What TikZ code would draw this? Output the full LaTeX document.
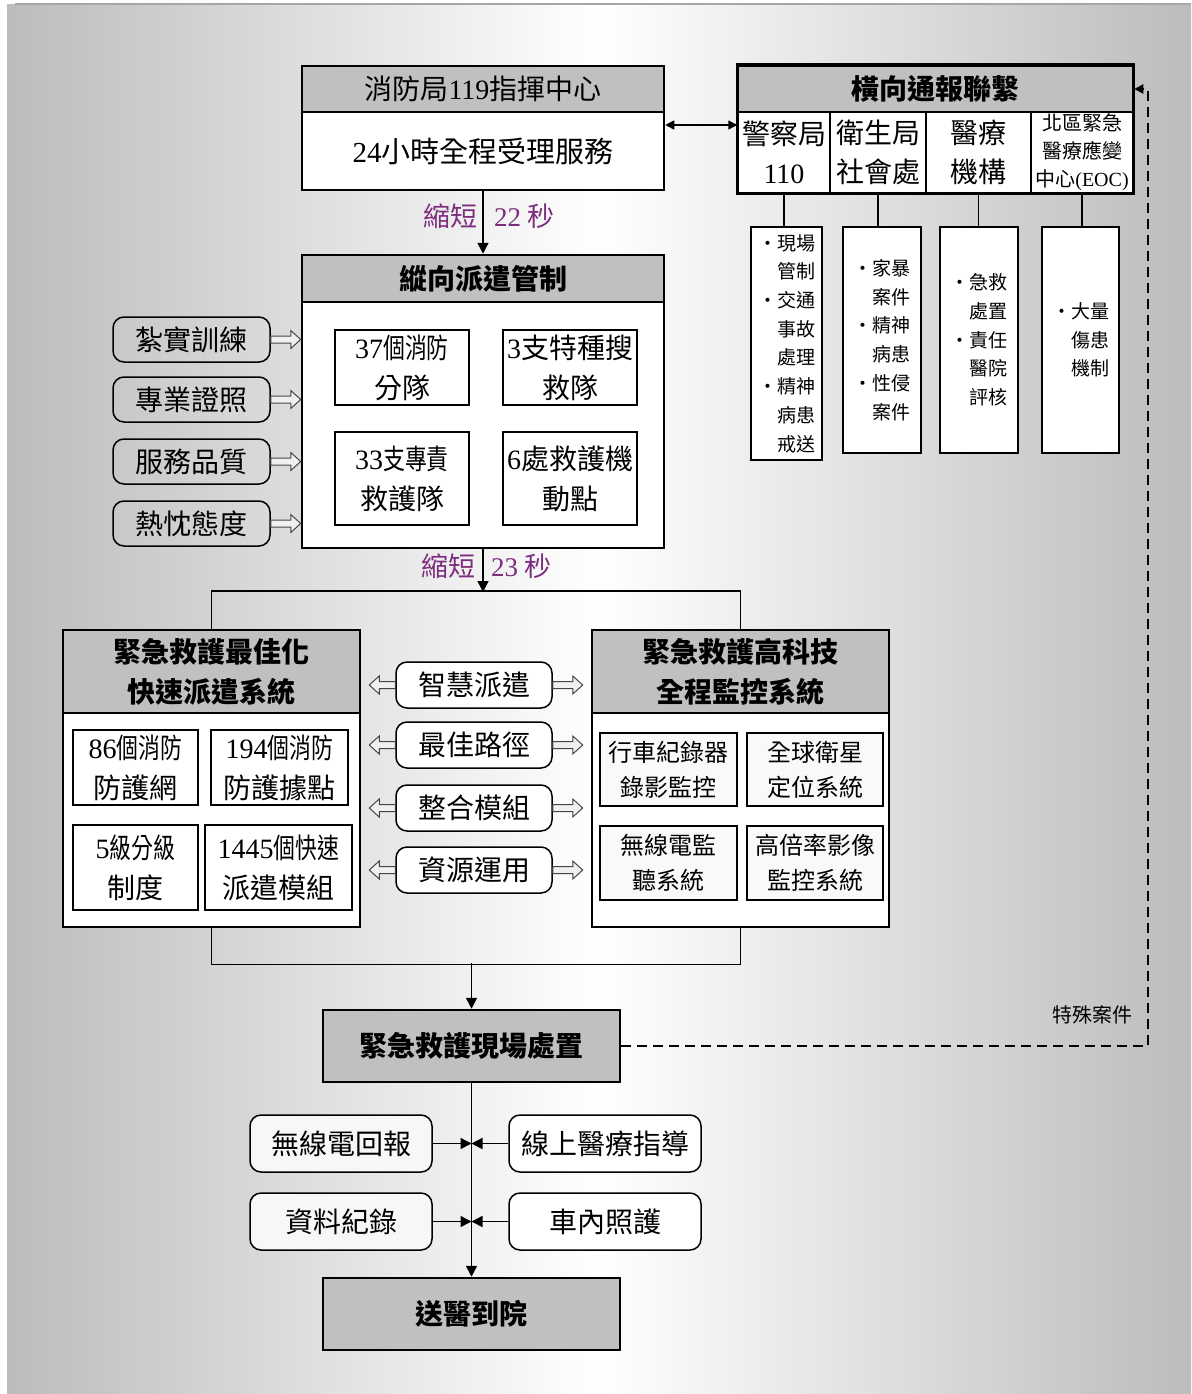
\documentclass[tikz,border=0pt]{standalone}
\usepackage{fontspec}
\setmainfont{Noto Sans CJK TC}
\newfontfamily\cjkc[FakeStretch=0.78]{Noto Sans CJK TC}
\newfontfamily\tnr{Liberation Serif}
\newcommand\tn[1]{{\tnr #1}}
\newcommand\fsz[2]{\fontsize{#1}{#2}\selectfont}
\usetikzlibrary{arrows.meta,calc}
\definecolor{hdrgray}{RGB}{192,192,192}
\definecolor{bgg}{RGB}{188,188,188}
\definecolor{purp}{RGB}{125,45,125}
\newcommand\harr[2]{%
 \filldraw[hollowarr] let \p1=(#1), \p2=(#2), \n1={(\x2>\x1)*2-1} in
  (\x1,{\y1+3.5pt}) -- ({\x2-\n1*10pt},{\y1+3.5pt}) -- ({\x2-\n1*10pt},{\y1+9pt})
  -- (\x2,\y1) -- ({\x2-\n1*10pt},{\y1-9pt}) -- ({\x2-\n1*10pt},{\y1-3.5pt})
  -- (\x1,{\y1-3.5pt}) -- cycle;}
\begin{document}
\begin{tikzpicture}[x=1pt,y=-1pt,
  wh/.style n args={2}{minimum width=#1pt, minimum height=#2pt},
  mainhdr/.style={draw, line width=2.5pt, fill=hdrgray, inner sep=0pt, align=center},
  mainbody/.style={draw, line width=2.5pt, fill=white, inner sep=0pt, align=center},
  cell/.style={draw, line width=1.5pt, fill=white, inner sep=0pt, align=center},
  detail/.style={draw, line width=1.2pt, fill=white, inner sep=0pt, align=left, font=\fsz{19}{28.7}},
  ibox/.style={draw, line width=1.2pt, fill=white, inner sep=0pt, align=center},
  rbox/.style={draw, line width=1.5pt, rounded corners=11pt, inner sep=0pt, align=center, font=\fsz{28}{34}},
  arr/.style={line width=1.5pt, -{Triangle[length=11pt,width=11pt]}},
  lbl/.style={text=purp, font=\fsz{27}{30}, inner sep=0pt},
  hollowarr/.style={fill=gray!12, draw=gray!55!black, line width=1pt}
]
\useasboundingbox (0,0) rectangle (1191,1394);
\fill[white] (0,0) rectangle (1191,1394);
\shade[left color=bgg, right color=bgg, middle color=white] (7,5) rectangle (1191,1394);
\draw[gray!70, line width=2pt] (15,4) -- (1191,4);

% ---- 119 center
\node[mainbody, wh={362}{78}, font=\fsz{29}{34}] (b119) at (483,151) {\tn{24}小時全程受理服務};
\node[mainhdr, wh={362}{46}, font=\fsz{28}{32}] (h119) at (483,89) {消防局\tn{119}指揮中心};

% ---- horizontal liaison
\node[cell, wh={92}{81}, font=\fsz{28}{39}] (c1) at (784,152.5) {警察局\\\tn{110}};
\node[cell, wh={96}{81}, font=\fsz{28}{39}] (c2) at (878,152.5) {衛生局\\社會處};
\node[cell, wh={105}{81}, font=\fsz{28}{39}] (c3) at (978.5,152.5) {醫療\\機構};
\node[cell, wh={102}{81}, font=\fsz{20}{28}] (c4) at (1082,152.5) {北區緊急\\醫療應變\\中心\tn{(EOC)}};
\node[mainhdr, wh={395}{46}, font=\fsz{28}{32}\bfseries] (hh) at (935.5,89) {橫向通報聯繫};
\draw[line width=2.5pt] (hh.north west) rectangle (c4.south east);

\node[detail, wh={71}{233}] (d1) at (786.5,343.5) {・現場\\\phantom{・}管制\\・交通\\\phantom{・}事故\\\phantom{・}處理\\・精神\\\phantom{・}病患\\\phantom{・}戒送};
\node[detail, wh={78}{226}] (d2) at (882,340) {・家暴\\\phantom{・}案件\\・精神\\\phantom{・}病患\\・性侵\\\phantom{・}案件};
\node[detail, wh={78}{226}] (d3) at (979,340) {・急救\\\phantom{・}處置\\・責任\\\phantom{・}醫院\\\phantom{・}評核};
\node[detail, wh={77}{226}] (d4) at (1080.5,340) {・大量\\\phantom{・}傷患\\\phantom{・}機制};
\foreach \c/\d in {c1/d1,c2/d2,c3/d3,c4/d4}
  \draw[line width=1.2pt] (\c.south) -- (\c.south |- \d.north);

\draw[line width=1.5pt, {Triangle[length=9pt,width=9pt]}-{Triangle[length=9pt,width=9pt]}]
  ([yshift=26pt]b119.east) -- ([yshift=26pt]b119.east -| c1.west);

% ---- vertical dispatch
\node[mainbody, wh={362}{246}] (vb) at (483,425) {};
\node[mainhdr, wh={362}{47}, font=\fsz{28}{32}\bfseries] (vh) at (483,278.5) {縱向派遣管制};
\draw[arr] (b119.south) -- (vh.north);
\node[lbl, anchor=east] (t22a) at (478,216) {縮短};
\node[lbl, anchor=west] (t22b) at (494,216) {\tn{22} 秒};

\node[ibox, wh={134}{75}, font=\fsz{28}{40}] (i1) at (402,367.5) {{\cjkc\tn{37}個消防}\\分隊};
\node[ibox, wh={134}{75}, font=\fsz{28}{40}] (i2) at (570,367.5) {\tn{3}支特種搜\\救隊};
\node[ibox, wh={134}{93}, font=\fsz{28}{40}] (i3) at (402,478.5) {{\cjkc\tn{33}支專責}\\救護隊};
\node[ibox, wh={134}{93}, font=\fsz{28}{40}] (i4) at (570,478.5) {\tn{6}處救護機\\動點};

\node[rbox, wh={157}{45}] (l1) at (191.5,339.5) {紮實訓練};
\node[rbox, wh={157}{45}] (l2) at (191.5,399.5) {專業證照};
\node[rbox, wh={157}{45}] (l3) at (191.5,461.5) {服務品質};
\node[rbox, wh={157}{45}] (l4) at (191.5,523.5) {熱忱態度};
\foreach \l in {l1,l2,l3,l4} \harr{\l.east}{vb.west |- \l.east};

% ---- split to two systems
\coordinate (jt) at (483,592);
\draw[arr] (vb.south) -- (vb.south |- jt);
\node[lbl, anchor=east] (t23a) at (476,566) {縮短};
\node[lbl, anchor=west] (t23b) at (491,566) {\tn{23} 秒};

\node[mainbody, wh={297}{214}] (lb) at (211.5,820) {};
\node[mainhdr, wh={297}{83}, font=\fsz{28}{40}\bfseries] (lh) at (211.5,671.5) {緊急救護最佳化\\快速派遣系統};
\node[mainbody, wh={297}{214}] (rb) at (740.5,820) {};
\node[mainhdr, wh={297}{83}, font=\fsz{28}{40}\bfseries] (rh) at (740.5,671.5) {緊急救護高科技\\全程監控系統};
\draw[line width=1.5pt] (lh.north) -- ++(0,-38) -| (rh.north);

\node[ibox, wh={125}{75}, font=\fsz{28}{40}] (j1) at (135.5,767.5) {{\cjkc\tn{86}個消防}\\防護網};
\node[ibox, wh={137}{75}, font=\fsz{28}{40}] (j2) at (279.5,767.5) {{\cjkc\tn{194}個消防}\\防護據點};
\node[ibox, wh={125}{85}, font=\fsz{28}{40}] (j3) at (135.5,867.5) {{\cjkc\tn{5}級分級}\\制度};
\node[ibox, wh={147}{85}, font=\fsz{28}{40}] (j4) at (278.5,867.5) {{\cjkc\tn{1445}個快速}\\派遣模組};

\node[ibox, fill=gray!5, wh={137}{73}, font=\fsz{24}{35}] (k1) at (668.5,769.5) {行車紀錄器\\錄影監控};
\node[ibox, fill=gray!5, wh={136}{73}, font=\fsz{24}{35}] (k2) at (815,769.5) {全球衛星\\定位系統};
\node[ibox, fill=gray!5, wh={137}{74}, font=\fsz{24}{35}] (k3) at (668.5,863) {無線電監\\聽系統};
\node[ibox, fill=gray!5, wh={136}{74}, font=\fsz{24}{35}] (k4) at (815,863) {高倍率影像\\監控系統};

\node[rbox, fill=white, wh={156}{46}] (m1) at (474,685) {智慧派遣};
\node[rbox, fill=white, wh={156}{46}] (m2) at (474,745) {最佳路徑};
\node[rbox, fill=white, wh={156}{46}] (m3) at (474,808) {整合模組};
\node[rbox, fill=white, wh={156}{46}] (m4) at (474,870) {資源運用};
\foreach \m in {m1,m2,m3,m4} {
  \harr{\m.west}{[xshift=8pt]lb.east |- \m.west};
  \harr{\m.east}{[xshift=-8pt]rb.west |- \m.east};
}

% ---- merge to scene
\node[mainhdr, wh={297}{72}, font=\fsz{28}{32}\bfseries] (sc) at (471.5,1046) {緊急救護現場處置};
\coordinate (jb) at (sc.north |- 0,963);
\draw[line width=1.5pt] (lb.south) -- ++(0,36) -| (rb.south);
\draw[arr] (jb) -- (sc.north);

\draw[line width=2pt, dash pattern=on 10pt off 6pt, -{Triangle[length=9pt,width=9pt]}]
  (sc.east) -| ([xshift=14pt]hh.east) -- (hh.east);
\node[font=\fsz{20}{24}, inner sep=0pt] (sp) at (1092,1015) {特殊案件};

% ---- to hospital
\node[mainhdr, wh={297}{72}, font=\fsz{28}{32}\bfseries] (hosp) at (471.5,1314) {送醫到院};
\draw[arr] (sc.south) -- (hosp.north);

\node[rbox, fill=gray!6, wh={182}{57}] (n1) at (341,1143.5) {無線電回報};
\node[rbox, fill=white, wh={192}{57}] (n2) at (605,1143.5) {線上醫療指導};
\node[rbox, fill=gray!6, wh={182}{57}] (n3) at (341,1221.5) {資料紀錄};
\node[rbox, fill=white, wh={192}{57}] (n4) at (605,1221.5) {車內照護};
\draw[arr] (n1.east) -- (n1.east -| sc.south);
\draw[arr] (n2.west) -- (n2.west -| sc.south);
\draw[arr] (n3.east) -- (n3.east -| sc.south);
\draw[arr] (n4.west) -- (n4.west -| sc.south);
\end{tikzpicture}
\end{document}
